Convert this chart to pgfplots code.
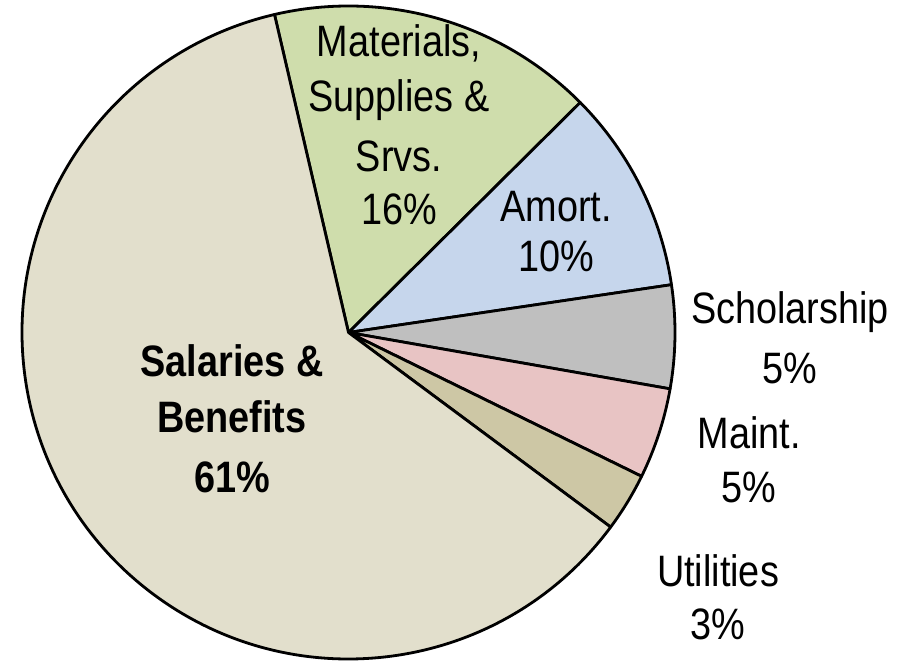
\documentclass[border=0pt]{standalone}
\usepackage{pgfplots}
\pgfplotsset{compat=1.18}
\usepackage{fontspec}
\setmainfont[FakeStretch=0.86]{Liberation Sans}
\definecolor{csal}{RGB}{226,223,204}
\definecolor{cmat}{RGB}{207,221,172}
\definecolor{camo}{RGB}{198,214,236}
\definecolor{csch}{RGB}{191,191,191}
\definecolor{cmai}{RGB}{232,196,196}
\definecolor{cuti}{RGB}{205,199,165}
\newcommand{\lab}{\fontsize{44}{50}\selectfont}
\newcommand{\slice}[3]{\filldraw[fill=#3,draw=black,line width=2.8pt,line join=round]
  (axis cs:348.5,330.5) -- ++(#1:326.5pt) arc[start angle=#1,end angle=#2,radius=326.5pt] -- cycle;}
\begin{document}
\begin{tikzpicture}
% shares in percent, clockwise from the Materials slice
\pgfmathsetmacro\aA{103.1}
\pgfmathsetmacro\aB{\aA-3.6*16.2}% Materials, Supplies & Srvs.
\pgfmathsetmacro\aC{\aB-3.6*10.1}% Amort.
\pgfmathsetmacro\aD{\aC-3.6*5.1}% Scholarship
\pgfmathsetmacro\aE{\aD-3.6*4.5}% Maint.
\pgfmathsetmacro\aF{\aE-3.6*2.9}% Utilities
\pgfmathsetmacro\aG{\aF-3.6*61.2}% Salaries & Benefits
\begin{axis}[x=1pt,y=1pt,xmin=0,xmax=908,ymin=0,ymax=663,hide axis,clip=false,
  anchor=origin,at={(0,0)}]
\slice{\aA}{\aB}{cmat}
\slice{\aB}{\aC}{camo}
\slice{\aC}{\aD}{csch}
\slice{\aD}{\aE}{cmai}
\slice{\aE}{\aF}{cuti}
\slice{\aF}{\aG}{csal}
\begin{scope}[every node/.style={anchor=base,inner sep=0pt,font=\lab}]
\node at (axis cs:399,606.3) {Materials,};
\node at (axis cs:399,551.3) {Supplies \&};
\node at (axis cs:399,491.3) {Srvs.};
\node at (axis cs:399,438) {16\%};
\node at (axis cs:556,441.3) {Amort.};
\node at (axis cs:556,391.3) {10\%};
\node at (axis cs:790,339) {Scholarship};
\node at (axis cs:790,279) {5\%};
\node at (axis cs:749,214) {Maint.};
\node at (axis cs:749,160) {5\%};
\node at (axis cs:718,76) {Utilities};
\node at (axis cs:718,23) {3\%};
\node[font=\lab\bfseries] at (axis cs:232,286.3) {Salaries \&};
\node[font=\lab\bfseries] at (axis cs:232,230) {Benefits};
\node[font=\lab\bfseries] at (axis cs:232,170) {61\%};
\end{scope}
\end{axis}
\pgfresetboundingbox
\path (0,0) rectangle (908pt,663pt);
\end{tikzpicture}
\end{document}
